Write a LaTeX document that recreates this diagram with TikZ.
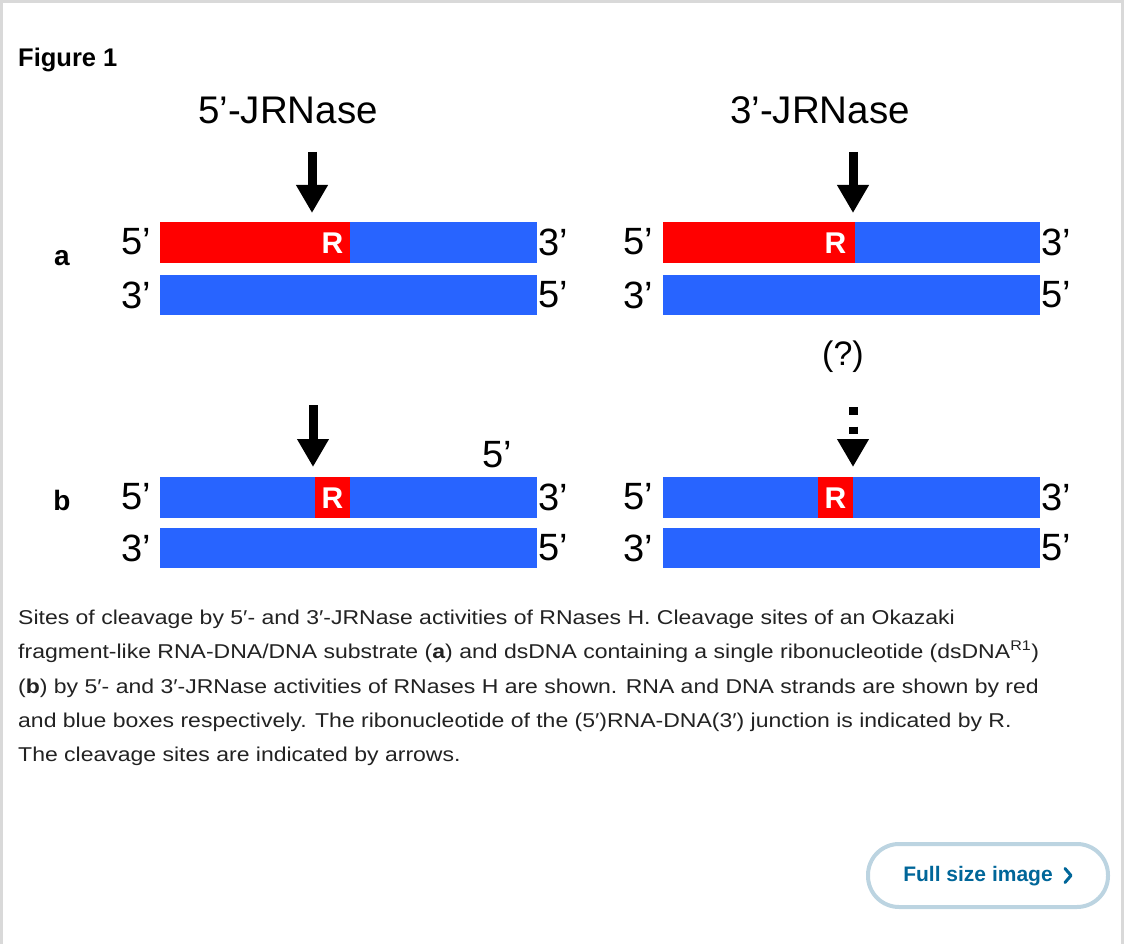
\documentclass[tikz,border=0pt]{standalone}
\usepackage{fontspec}
\setmainfont{Liberation Sans}
\newfontfamily\capfont[FakeStretch=1.15]{Liberation Sans}
\usetikzlibrary{arrows.meta}

\definecolor{rnared}{RGB}{255,0,0}
\definecolor{dnablue}{RGB}{40,100,255}
\definecolor{framegray}{RGB}{217,217,217}
\definecolor{linkblue}{RGB}{0,102,153}
\definecolor{btnedge}{RGB}{188,212,225}
\definecolor{captext}{RGB}{34,34,34}

\tikzset{
	strand/.style={draw=none,inner sep=0pt,outer sep=0pt,minimum height=41pt},
	dna/.style={strand,fill=dnablue},
	rna/.style={strand,fill=rnared},
	endlbl/.style={inner sep=0pt,font=\fontsize{38}{38}\selectfont},
	ribo/.style={inner sep=0pt,text=white,font=\bfseries\fontsize{30}{30}\selectfont},
	cut/.style={-{Triangle[width=30pt,length=28pt]},line width=9pt},
	caption/.style={anchor=base west,inner sep=0pt,text=captext,font=\capfont\fontsize{20}{20}\selectfont}
}

\begin{document}
\begin{tikzpicture}[x=1pt,y=-1pt]
		\useasboundingbox (0,0) rectangle (1128,944);
		\draw[framegray,line width=3pt] (1.5,944) -- (1.5,1.5) -- (1122.5,1.5) -- (1122.5,944);
		\draw
		node[anchor=base west,inner sep=0pt,font=\bfseries\fontsize{25.5}{25.5}\selectfont] (fig) at (18,67){Figure 1}
		node[inner sep=0pt,font=\fontsize{38.5}{38.5}\selectfont] (titleL) at (288,110){5’-JRNase}
		node[inner sep=0pt,font=\fontsize{38.5}{38.5}\selectfont] (titleR) at (820,110){3’-JRNase}
		node[inner sep=0pt,font=\bfseries\fontsize{28}{28}\selectfont] (rowa) at (62,258){a}
		node[inner sep=0pt,font=\bfseries\fontsize{28}{28}\selectfont] (rowb) at (62,500){b};
		% row a, left
		\draw
		node[rna,minimum width=190pt] (aRnaL) at (255,242.5){}
		node[dna,minimum width=187pt] (aDnaL) at (443.5,242.5){}
		node[dna,minimum width=377pt,minimum height=40pt] (aBotL) at (348.5,295){}
		node[ribo] (aRL) at (332.5,243){R}
		node[endlbl] (a5L) at (136,242){5’}
		node[endlbl] (a3L) at (136,295){3’}
		node[endlbl] (a3Lr) at (553,242){3’}
		node[endlbl] (a5Lr) at (553,295){5’};
		% row a, right
		\draw
		node[rna,minimum width=192pt] (aRnaR) at (759,242.5){}
		node[dna,minimum width=185pt] (aDnaR) at (947.5,242.5){}
		node[dna,minimum width=377pt,minimum height=40pt] (aBotR) at (851.5,295){}
		node[ribo] (aRR) at (835.5,243){R}
		node[endlbl] (a5R) at (638,242){5’}
		node[endlbl] (a3R) at (638,295){3’}
		node[endlbl] (a3Rr) at (1056,242){3’}
		node[endlbl] (a5Rr) at (1056,295){5’};
		% row b, left
		\draw
		node[dna,minimum width=377pt] (bTopL) at (348.5,497.5){}
		node[rna,minimum width=35pt] (bRboxL) at (332.5,497.5){}
		node[ribo] (bRL) at (332.5,498){R}
		node[dna,minimum width=377pt,minimum height=40pt] (bBotL) at (348.5,548){}
		node[endlbl] (b5L) at (136,497){5’}
		node[endlbl] (b3L) at (136,548){3’}
		node[endlbl] (b3Lr) at (553,497){3’}
		node[endlbl] (b5Lr) at (553,548){5’}
		node[endlbl] (b5top) at (497,455){5’};
		% row b, right
		\draw
		node[dna,minimum width=377pt] (bTopR) at (851.5,497.5){}
		node[rna,minimum width=35pt] (bRboxR) at (835.5,497.5){}
		node[ribo] (bRR) at (835.5,498){R}
		node[dna,minimum width=377pt,minimum height=40pt] (bBotR) at (851.5,548){}
		node[endlbl] (b5R) at (638,497){5’}
		node[endlbl] (b3R) at (638,548){3’}
		node[endlbl] (b3Rr) at (1056,497){3’}
		node[endlbl] (b5Rr) at (1056,548){5’}
		node[inner sep=0pt,font=\fontsize{34}{34}\selectfont] (maybe) at (843,357){(?)};
		% cleavage arrows
		\coordinate (cutAL) at (312,152);
		\coordinate (cutAR) at (853,152);
		\coordinate (cutBL) at (313,405);
		\coordinate (cutBR) at (853,407);
		\draw [cut,shorten >=9pt] (cutAL) -- (cutAL |- aRnaL.north);
		\draw [cut,shorten >=9pt] (cutAR) -- (cutAR |- aDnaR.north);
		\draw [cut,shorten >=10pt] (cutBL) -- (cutBL |- bTopL.north);
		\draw [cut,shorten >=10pt,dash pattern=on 7.5pt off 12pt] (cutBR) -- (cutBR |- bTopR.north);
		% caption
		\draw
		node[caption] (cap1) at (18,624){Sites of cleavage by 5′- and 3′-JRNase activities of RNases H. Cleavage sites of an Okazaki}
		node[caption] (cap2) at (18,658){fragment-like RNA-DNA/DNA substrate (\textbf{a}) and dsDNA containing a single ribonucleotide (dsDNA\textsuperscript{R1})}
		node[caption] (cap3) at (18,693){(\textbf{b}) by 5′- and 3′-JRNase activities of RNases H are shown. RNA and DNA strands are shown by red}
		node[caption] (cap4) at (18,727){and blue boxes respectively. The ribonucleotide of the (5′)RNA-DNA(3′) junction is indicated by R.}
		node[caption] (cap5) at (18,761){The cleavage sites are indicated by arrows.};
		% full size button
		\draw[btnedge,line width=4pt,rounded corners=31pt,fill=white] (868,844) rectangle (1108,907);
		\draw
		node[inner sep=0pt,text=linkblue,font=\bfseries\fontsize{21}{21}\selectfont] (btn) at (978,876){Full size image};
		\draw[linkblue,line width=3pt,line cap=round,line join=round] (1065,868.5) -- (1071,875.5) -- (1065,882.5);
		\end{tikzpicture}
\end{document}
